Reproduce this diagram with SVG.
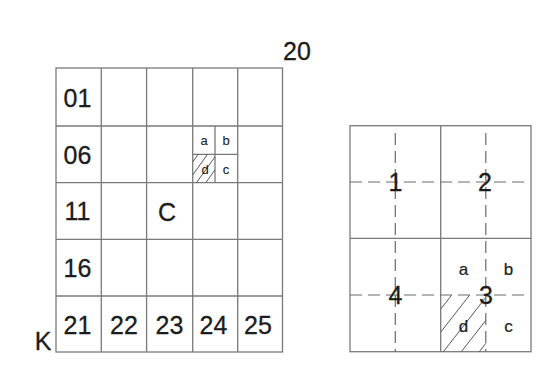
<svg xmlns="http://www.w3.org/2000/svg" width="547" height="377" viewBox="0 0 547 377">
<style>
.g{fill:none;stroke:#7a7a7a;stroke-width:1.3}
.d{fill:none;stroke:#6a6a6a;stroke-width:1.2;stroke-dasharray:12 6}
.h{stroke:#555;stroke-width:1}
.t{font-family:"Liberation Sans",Arial,sans-serif;fill:#1c1c1c;text-anchor:middle;stroke:#1c1c1c;stroke-width:0.3}
.L{font-size:25px}
.s{font-size:13px;stroke-width:0.1}
.m{font-size:17px;stroke-width:0.2}
</style>
<defs>
<clipPath id="cl"><rect x="192.7" y="154" width="22.3" height="28.7"/></clipPath>
<clipPath id="cr"><rect x="440.7" y="295" width="45.1" height="56.7"/></clipPath>
</defs>
<rect width="547" height="377" fill="#fff"/>
<g id="left-grid">
<rect class="g" x="56" y="68" width="226.5" height="284"/>
<path class="g" d="M101.3 68V352M146.6 68V352M192.7 68V352M237.7 68V352M56 126H282.5M56 182.7H282.5M56 239.3H282.5M56 296H282.5"/>
<path class="g" d="M215 126V182.7M192.7 154.3H237.7"/>
<g clip-path="url(#cl)">
<line class="h" x1="192.7" y1="162" x2="222" y2="121"/>
<line class="h" x1="192.7" y1="175" x2="222" y2="134"/>
<line class="h" x1="192.7" y1="188" x2="222" y2="147"/>
<line class="h" x1="192.7" y1="201" x2="222" y2="160"/>
<line class="h" x1="192.7" y1="214" x2="222" y2="173"/>
</g>
<text class="t L" x="77.5" y="106.5">01</text>
<text class="t L" x="77.5" y="163.5">06</text>
<text class="t L" x="77.5" y="220">11</text>
<text class="t L" x="77.5" y="276.7">16</text>
<text class="t L" x="77.5" y="334">21</text>
<text class="t L" x="124" y="334">22</text>
<text class="t L" x="169.5" y="334">23</text>
<text class="t L" x="213.5" y="334">24</text>
<text class="t L" x="258" y="334">25</text>
<text class="t L" x="167" y="221">C</text>
<text class="t s" x="204" y="145">a</text>
<text class="t s" x="226" y="145">b</text>
<text class="t s" x="205" y="174">d</text>
<text class="t s" x="226" y="174">c</text>
<text class="t L" x="297" y="60">20</text>
<text class="t L" x="43" y="350">K</text>
</g>
<g id="right-grid">
<rect class="g" x="350" y="125.7" width="181" height="226"/>
<path class="g" d="M440.7 125.7V351.7M350 238.3H531"/>
<g clip-path="url(#cr)">
<line class="h" x1="440" y1="310" x2="490" y2="246"/>
<line class="h" x1="440" y1="333" x2="490" y2="269"/>
<line class="h" x1="440" y1="356" x2="490" y2="292"/>
<line class="h" x1="440" y1="379" x2="490" y2="315"/>
<line class="h" x1="440" y1="402" x2="490" y2="338"/>
</g>
<path class="d" d="M350 182H525M350 295H525M395.3 133V351.7M485.8 133V351.7"/>
<text class="t L" x="395.5" y="191">1</text>
<text class="t L" x="485" y="191">2</text>
<text class="t L" x="395.5" y="304">4</text>
<text class="t L" x="486" y="304">3</text>
<text class="t m" x="463.5" y="275">a</text>
<text class="t m" x="508.5" y="275">b</text>
<text class="t m" x="463.5" y="332">d</text>
<text class="t m" x="508.5" y="332">c</text>
</g>
</svg>
